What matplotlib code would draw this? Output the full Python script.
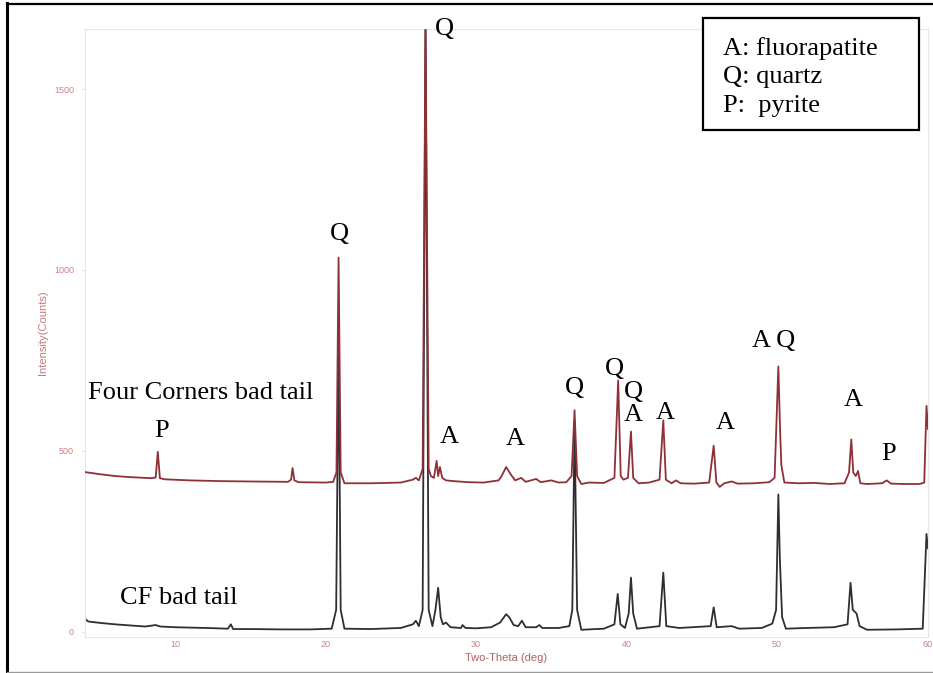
import matplotlib
matplotlib.use("Agg")
import matplotlib.pyplot as plt
from matplotlib.patches import Rectangle
from matplotlib.lines import Line2D

# Four Corners bad tail (upper trace), vertices read as (2-theta, counts)
fc_theta = [4.0, 5.0, 6.0, 7.0, 8.4, 8.7, 8.84, 8.98, 9.3, 11.0, 13.0, 15.0,
            17.5, 17.7, 17.8, 17.92, 18.2, 20.0, 20.5, 20.72, 20.86, 21.0, 21.25,
            23.0, 25.0, 25.8, 26.0, 26.2, 26.45, 26.64, 26.85, 27.0, 27.2, 27.38,
            27.48, 27.6, 27.75, 28.0, 28.5, 29.5, 30.5, 31.5, 31.7, 32.0, 32.3,
            32.6, 33.0, 33.3, 34.0, 34.3, 35.0, 35.5, 36.0, 36.35, 36.55, 36.72,
            37.0, 37.5, 38.5, 39.2, 39.45, 39.62, 39.8, 40.1, 40.3, 40.45, 40.8,
            41.5, 42.2, 42.45, 42.62, 43.0, 43.3, 43.6, 44.5, 45.5, 45.8, 45.98,
            46.2, 46.5, 47.0, 47.4, 48.5, 49.5, 49.85, 50.1, 50.22, 50.3, 50.5,
            51.5, 52.5, 53.5, 54.5, 54.8, 54.95, 55.08, 55.25, 55.4, 55.55, 56.0,
            57.0, 57.3, 57.6, 58.5, 59.5, 59.8, 59.95, 60.05]
fc_counts = [441, 435, 430, 427, 424, 426, 497, 424, 421, 418, 416, 415,
             414, 420, 452, 418, 413, 412, 414, 440, 1034, 440, 410,
             410, 412, 420, 425, 418, 450, 1690, 450, 430, 425, 472,
             430, 455, 425, 418, 416, 413, 412, 418, 430, 455, 435,
             418, 425, 414, 422, 413, 418, 412, 413, 430, 612, 430,
             408, 412, 411, 425, 694, 430, 420, 425, 553, 425, 410,
             412, 420, 584, 420, 410, 418, 410, 409, 412, 514, 412,
             400, 410, 415, 409, 410, 413, 425, 733, 550, 460, 412,
             410, 411, 408, 410, 440, 531, 440, 430, 444, 410, 408,
             410, 418, 409, 408, 408, 412, 624, 560]

# CF bad tail (lower trace)
cf_theta = [4.0, 4.2, 5.0, 6.0, 7.0, 8.0, 8.7, 9.0, 10.0, 11.0, 12.0, 13.5,
            13.7, 13.85, 15.0, 17.0, 19.0, 20.4, 20.7, 20.86, 21.0, 21.25, 23.0,
            25.0, 25.8, 26.0, 26.2, 26.45, 26.64, 26.85, 27.1, 27.3, 27.48, 27.65,
            27.8, 28.0, 28.3, 29.0, 29.1, 29.3, 30.0, 31.0, 31.6, 32.0, 32.2,
            32.5, 32.8, 33.05, 33.3, 34.0, 34.2, 34.4, 35.5, 36.2, 36.4, 36.55,
            36.72, 37.0, 38.5, 39.2, 39.42, 39.6, 39.9, 40.15, 40.3, 40.45, 40.7,
            42.2, 42.45, 42.65, 43.5, 45.6, 45.8, 46.0, 47.0, 47.5, 49.0, 49.7,
            49.95, 50.1, 50.2, 50.35, 50.6, 52.0, 53.8, 54.7, 54.9, 55.05, 55.3,
            55.5, 56.0, 58.0, 59.7, 59.95, 60.05]
cf_counts = [36, 28, 24, 20, 17, 14, 18, 14, 12, 11, 10, 8,
             20, 7, 7, 6, 6, 8, 60, 800, 60, 8, 7,
             10, 20, 30, 15, 60, 1690, 60, 15, 60, 121, 40,
             20, 25, 12, 10, 18, 10, 9, 12, 25, 48, 40,
             18, 15, 30, 12, 12, 18, 10, 10, 15, 60, 580,
             60, 5, 8, 20, 104, 20, 10, 50, 149, 50, 8,
             15, 163, 15, 10, 15, 67, 12, 15, 8, 10, 22,
             60, 379, 200, 40, 8, 10, 12, 20, 135, 60, 50,
             15, 5, 6, 8, 270, 230]

# phase labels: (text, 2-theta, counts at baseline)
peak_labels = [("P", 9.07, 539), ("Q", 20.93, 1083), ("Q", 27.9, 1649),
               ("A", 28.2, 522), ("A", 32.6, 517), ("Q", 36.53, 657),
               ("Q", 39.19, 710), ("Q", 40.48, 646), ("A", 40.48, 583),
               ("A", 42.57, 588), ("A", 46.56, 561), ("A Q", 49.78, 787),
               ("A", 55.09, 624), ("P", 57.41, 475)]

legend_lines = ["A: fluorapatite", "Q: quartz", "P:  pyrite"]

W, H = 933, 673
fig = plt.figure(figsize=(W / 100, H / 100), dpi=100)
ax = fig.add_axes([85 / W, 1 - 637 / H, 843 / W, 608 / H])

ax.plot(cf_theta, cf_counts, color="#2e2e33", lw=1.3, zorder=2)
ax.plot(fc_theta, fc_counts, color="#8e3037", lw=1.3, zorder=3)

ax.set_xlim(4.0, 60.05)
ax.set_ylim(-15, 1666)
ax.set_xticks([10, 20, 30, 40, 50, 60])
ax.set_yticks([0, 500, 1000, 1500])

tick_col = "#c98585"
ax.tick_params(axis="x", length=0, pad=2, labelsize=6.5, labelcolor=tick_col)
ax.tick_params(axis="y", length=2, pad=6, labelsize=6.5, labelcolor=tick_col,
               color="#dddddd")
for lab in ax.get_xticklabels() + ax.get_yticklabels():
    lab.set_fontfamily("Liberation Sans")
for sp in ax.spines.values():
    sp.set_color("#e6e6e6")
    sp.set_linewidth(0.8)

ax.set_xlabel("Two-Theta (deg)", fontsize=8, color="#b06262",
              family="Liberation Sans", labelpad=3)
ax.set_ylabel("Intensity(Counts)", fontsize=8, color="#c07a7a",
              family="Liberation Sans", labelpad=4)

serif = dict(family="Liberation Serif", fontsize=19, color="black")
ax.text(4.19, 644, "Four Corners bad tail", ha="left", va="baseline",
        clip_on=False, **serif)
ax.text(6.32, 75, "CF bad tail", ha="left", va="baseline", clip_on=False, **serif)
for txt, tx, ty in peak_labels:
    ax.text(tx, ty, txt, ha="center", va="baseline", clip_on=False, zorder=5,
            **serif)

# mineral key box
fig.add_artist(Rectangle((703 / W, 1 - 130 / H), 216 / W, 112 / H,
                         transform=fig.transFigure, fill=True, fc="white",
                         ec="black", lw=1.6, zorder=6))
for i, line in enumerate(legend_lines):
    fig.text(723 / W, 1 - (55 + 28.5 * i) / H, line, ha="left", va="baseline",
             zorder=7, **serif)

# frame around the figure
fig.add_artist(Line2D([7 / W, 7 / W], [1 - 3 / H, 1 - 672 / H],
                      transform=fig.transFigure, color="black", lw=2.2))
fig.add_artist(Line2D([7 / W, 1], [1 - 3.5 / H, 1 - 3.5 / H],
                      transform=fig.transFigure, color="black", lw=1.6))
fig.add_artist(Line2D([7 / W, 1], [1 - 672 / H, 1 - 672 / H],
                      transform=fig.transFigure, color="#9a9a9a", lw=1.0))

fig.savefig("out.png", dpi=100)
